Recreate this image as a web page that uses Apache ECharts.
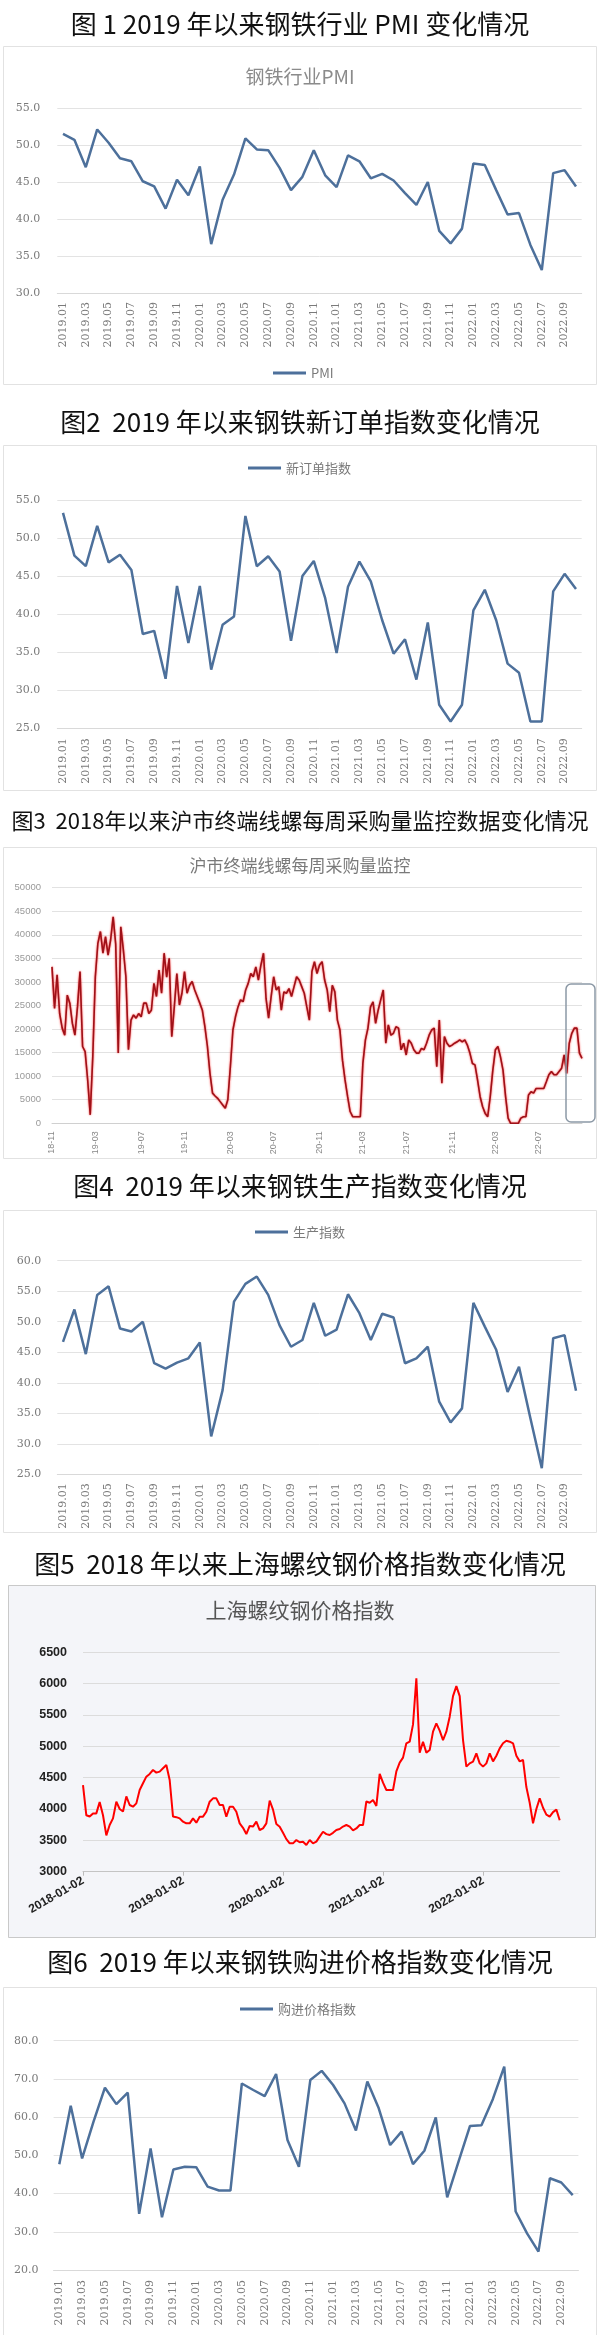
<!DOCTYPE html>
<html><head><meta charset="utf-8">
<script src="https://cdn.jsdelivr.net/npm/echarts@6/dist/echarts.min.js"></script>
<style>html,body{margin:0;padding:0;background:#fff}#c{width:600px;height:2335px}</style>
</head><body><div id="c"></div>
<script>
// ---------- DATA ----------
const months = ['2019.01','2019.02','2019.03','2019.04','2019.05','2019.06','2019.07','2019.08','2019.09','2019.10','2019.11','2019.12',
 '2020.01','2020.02','2020.03','2020.04','2020.05','2020.06','2020.07','2020.08','2020.09','2020.10','2020.11','2020.12',
 '2021.01','2021.02','2021.03','2021.04','2021.05','2021.06','2021.07','2021.08','2021.09','2021.10','2021.11','2021.12',
 '2022.01','2022.02','2022.03','2022.04','2022.05','2022.06','2022.07','2022.08','2022.09','2022.10'];

const pmi = [51.5,50.7,47.0,52.1,50.3,48.2,47.8,45.1,44.4,41.4,45.3,43.2,
 47.1,36.6,42.6,46.0,50.9,49.4,49.3,46.9,43.9,45.7,49.3,45.9,
 44.3,48.6,47.8,45.5,46.1,45.2,43.5,41.9,45.0,38.4,36.7,38.7,
 47.5,47.3,43.9,40.6,40.8,36.5,33.1,46.2,46.6,44.4];

const newOrders = [53.3,47.7,46.3,51.6,46.8,47.8,45.8,37.4,37.8,31.5,43.7,36.2,
 43.7,32.7,38.6,39.7,52.9,46.3,47.6,45.6,36.5,45.0,47.0,42.1,
 34.9,43.6,46.9,44.3,39.2,34.8,36.7,31.4,38.9,28.1,25.9,28.1,
 40.5,43.2,39.2,33.5,32.3,25.9,25.9,43.0,45.3,43.3];

const production = [46.7,52.0,44.7,54.4,55.8,48.9,48.4,50.0,43.2,42.3,43.3,44.0,
 46.6,31.2,38.8,53.3,56.2,57.4,54.4,49.4,45.9,47.0,53.1,47.7,
 48.7,54.5,51.4,47.0,51.3,50.7,43.2,44.0,45.9,36.9,33.5,35.8,
 53.1,49.2,45.4,38.5,42.6,34.2,26.0,47.3,47.8,38.7];

const purchasePrice = [47.7,63.0,49.2,58.8,67.7,63.4,66.4,34.7,51.8,33.8,46.3,47.0,
 46.9,41.8,40.8,40.8,68.8,67.1,65.5,71.3,54.0,47.0,69.7,72.1,
 68.4,63.6,56.5,69.3,62.3,52.7,56.2,47.7,51.2,59.9,39.0,48.4,
 57.7,57.9,64.7,73.2,35.3,29.6,24.8,44.0,42.9,39.6];

// weekly purchase volume of Shanghai terminal wire/rebar, first week = 2018-11-02
const weeklyStart = '2018-11-02';
const weeklyPurchase = [
 33200,24400,31500,23300,20200,18700,27200,25500,21200,18700,
 24700,32200,16300,15200,9200,1800,14100,31100,38200,40700,
 36100,39600,35700,38900,43800,38000,14900,41700,36800,31100,
 15600,21900,23000,22300,23300,22600,25500,25500,23300,24000,
 29700,26900,32500,27600,36100,31000,35000,18400,24700,31800,
 25100,27600,32200,27600,29300,30100,28300,26900,25500,24000,
 20500,16300,10600,6400,5800,5300,4600,3900,3200,5000,
 12000,19800,22600,24700,26200,25800,28300,29700,31800,31100,
 33200,30400,33600,36100,26500,22300,26900,31100,28300,29000,
 24000,27900,27600,28600,26900,29000,31100,30400,29000,27600,
 24700,21900,32200,34300,31800,33600,34300,30400,28300,23700,
 29300,27900,21900,19800,13400,9200,5700,2500,1400,1400,
 1400,1400,12700,17700,20200,24700,25800,21200,24000,26200,
 28300,17000,20900,18700,19100,20500,20200,15600,17000,14500,
 17700,17000,15600,14900,14900,15900,15600,17000,18700,19800,
 20200,12000,21900,8500,18400,17000,16300,16600,17000,17300,
 17700,17300,17700,16600,14900,12700,12400,9200,5700,3500,
 2100,1400,5700,11300,15600,16300,14100,11300,5700,1100,
 0,0,0,0,1100,1400,1400,6000,6700,6400,
 7400,7400,7400,7400,8800,10300,11000,10300,10300,11000,
 11700,14500,10600,17000,19100,20200,20200,14900,13800];

// Shanghai rebar price index, ~30 readings per year starting 2018-01-02
const rebarYearLabels = ['2018-01-02','2019-01-02','2020-01-02','2021-01-02','2022-01-02'];
const rebarPrice = [
 4380,3900,3880,3930,3930,4110,3900,3580,3745,3850,
 4117,4000,3960,4200,4064,4037,4090,4303,4410,4516,
 4560,4622,4580,4596,4649,4702,4463,3880,3870,3851,
 3798,3771,3771,3851,3782,3878,3878,3957,4117,4170,
 4170,4064,4064,3878,4037,4037,3957,3771,3700,3600,
 3730,3720,3798,3665,3692,3771,4133,3990,3760,3718,
 3620,3520,3452,3452,3505,3470,3479,3426,3505,3452,
 3480,3560,3638,3600,3585,3620,3665,3680,3720,3745,
 3718,3660,3690,3745,3745,4120,4100,4143,4050,4560,
 4420,4303,4303,4303,4600,4740,4820,5048,5074,5350,
 6085,4900,5074,4900,4941,5234,5367,5250,5100,5234,
 5473,5800,5960,5800,5100,4676,4728,4755,4888,4728,
 4676,4728,4888,4760,4850,4968,5050,5090,5074,5048,
 4850,4760,4782,4350,4100,3771,4000,4170,4020,3910,
 3878,3950,3990,3820];
const READINGS_PER_YEAR = 30;

// ---------- derived categories ----------
const DAY = 86400000;
const weekStartMs = Date.parse(weeklyStart + 'T00:00:00Z');
const weekDates = weeklyPurchase.map((_, i) => new Date(weekStartMs + i * 7 * DAY).toISOString().slice(0, 10));
const rebarStartMs = Date.parse(rebarYearLabels[0] + 'T00:00:00Z');
const rebarDates = rebarPrice.map((_, i) => new Date(rebarStartMs + i * 365.25 / READINGS_PER_YEAR * DAY).toISOString().slice(0, 10));

// ---------- STYLE ----------
const CJK = '"Noto Sans CJK SC","Noto Sans",sans-serif';
const SERIF = '"DejaVu Serif","Liberation Serif",serif';
const SANS = '"Liberation Sans",Arial,sans-serif';
const BLUE = '#4d709b';

function heading(text, cy, size) {
  return {text, left: 'center', top: cy - size / 2, padding: 0,
    textStyle: {fontFamily: CJK, fontSize: size, lineHeight: size, fontWeight: 'normal', color: '#111'}};
}
function inner(text, cy, size, color) {
  return {text, left: 'center', top: cy - size / 2, padding: 0,
    textStyle: {fontFamily: CJK, fontSize: size, lineHeight: size, fontWeight: 'normal', color}};
}
function legendAt(name, left, cy) {
  return {data: [name], left, top: cy - 7, padding: 0, icon: 'rect', itemWidth: 33, itemHeight: 3,
    textStyle: {fontFamily: CJK, fontSize: 13, color: '#7a7a7a', lineHeight: 14}, selectedMode: false};
}
function monthAxis(gi, margin) {
  return {type: 'category', gridIndex: gi, data: months, boundaryGap: true,
    axisLine: {lineStyle: {color: '#d9d9d9'}}, axisTick: {show: false},
    axisLabel: {interval: 1, rotate: 90, margin, fontFamily: SERIF, fontSize: 11, color: '#7a7a7a'}};
}
function monthValAxis(gi, min, max, interval, margin) {
  return {type: 'value', gridIndex: gi, min, max, interval,
    axisLine: {show: false}, axisTick: {show: false},
    splitLine: {lineStyle: {color: '#e3e3e3'}},
    axisLabel: {formatter: v => v.toFixed(1), fontFamily: SERIF, fontSize: 11, color: '#7a7a7a', margin}};
}
function blueLine(name, idx, data) {
  return {type: 'line', name, xAxisIndex: idx, yAxisIndex: idx, data, symbol: 'none',
    lineStyle: {color: BLUE, width: 2.5}, itemStyle: {color: BLUE}};
}
function panel(x, y, w, h, fill, stroke) {
  return {type: 'rect', z: -10, silent: true, shape: {x, y, width: w, height: h},
    style: {fill: fill || 'none', stroke: stroke || '#e2e2e2', lineWidth: 1}};
}

const option = {
  animation: false,
  backgroundColor: '#ffffff',
  graphic: {elements: [
    panel(3.5, 46.5, 593, 338),
    panel(3.5, 445.5, 593, 345),
    panel(3.5, 847.5, 593, 311),
    panel(3.5, 1210.5, 593, 322),
    panel(8.5, 1585.5, 587, 352, '#f4f5f9', '#c9c9c9'),
    panel(3.5, 1987.5, 593, 352),
    {type: 'rect', z: 20, silent: true, shape: {x: 566, y: 984, width: 29, height: 138, r: 5},
      style: {fill: 'none', stroke: '#8c99a6', lineWidth: 1.5}}
  ]},
  title: [
    heading('图 1 2019 年以来钢铁行业 PMI 变化情况', 24, 26),
    heading('图2  2019 年以来钢铁新订单指数变化情况', 422, 26),
    heading('图3  2018年以来沪市终端线螺每周采购量监控数据变化情况', 821, 22),
    heading('图4  2019 年以来钢铁生产指数变化情况', 1186, 26),
    heading('图5  2018 年以来上海螺纹钢价格指数变化情况', 1564, 26),
    heading('图6  2019 年以来钢铁购进价格指数变化情况', 1962, 26),
    inner('钢铁行业PMI', 77, 19, '#8b8b8b'),
    inner('沪市终端线螺每周采购量监控', 866, 17, '#7a7a7a'),
    inner('上海螺纹钢价格指数', 1610, 21, '#555555')
  ],
  legend: [
    legendAt('PMI', 273, 373),
    legendAt('新订单指数', 248, 468),
    legendAt('生产指数', 255, 1232),
    legendAt('购进价格指数', 240, 2009)
  ],
  grid: [
    {left: 57.3, width: 524.4, top: 108, height: 185},
    {left: 57.3, width: 524.4, top: 500, height: 228.3},
    {left: 52, width: 530, top: 887.7, height: 235.6},
    {left: 57.3, width: 524.4, top: 1260.7, height: 213.6},
    {left: 83, width: 476.7, top: 1652.3, height: 219.4},
    {left: 53.6, width: 524.8, top: 2040.7, height: 229.3}
  ],
  xAxis: [
    monthAxis(0, 9),
    monthAxis(1, 10),
    {type: 'category', gridIndex: 2, data: weekDates, boundaryGap: false,
      axisLine: {lineStyle: {color: '#d0d0d0'}}, axisTick: {show: false},
      axisLabel: {rotate: 90, margin: 8, fontFamily: SANS, fontSize: 9, color: '#888',
        interval: (i, v) => { const d = +v.slice(8, 10), m = +v.slice(5, 7); return d <= 7 && (m === 3 || m === 7 || m === 11); },
        formatter: v => v.slice(2, 7)}},
    monthAxis(3, 9),
    {type: 'category', gridIndex: 4, data: rebarDates, boundaryGap: false,
      axisLine: {lineStyle: {color: '#c4c4c4'}},
      axisTick: {show: true, length: 4, lineStyle: {color: '#bdbdbd'}, interval: i => i % READINGS_PER_YEAR === 0},
      axisLabel: {rotate: 30, margin: 8, fontFamily: SANS, fontSize: 12, fontWeight: 'bold', color: '#222',
        interval: i => i % READINGS_PER_YEAR === 0,
        formatter: (v, i) => rebarYearLabels[Math.round(i / READINGS_PER_YEAR)] || ''}},
    monthAxis(5, 10)
  ],
  yAxis: [
    monthValAxis(0, 30, 55, 5, 17),
    monthValAxis(1, 25, 55, 5, 17),
    {type: 'value', gridIndex: 2, min: 0, max: 50000, interval: 5000,
      axisLine: {show: false}, axisTick: {show: false},
      splitLine: {lineStyle: {color: '#e2e2e2'}},
      axisLabel: {formatter: v => String(v), fontFamily: SANS, fontSize: 9.5, color: '#999', margin: 11}},
    monthValAxis(3, 25, 60, 5, 16),
    {type: 'value', gridIndex: 4, min: 3000, max: 6500, interval: 500,
      axisLine: {show: false}, axisTick: {show: false},
      splitLine: {lineStyle: {color: '#dcdcdc'}},
      axisLabel: {formatter: v => String(v), fontFamily: SANS, fontSize: 12.5, fontWeight: 'bold', color: '#222', margin: 16}},
    monthValAxis(5, 20, 80, 10, 15)
  ],
  series: [
    blueLine('PMI', 0, pmi),
    blueLine('新订单指数', 1, newOrders),
    {type: 'line', name: '沪市终端线螺每周采购量', xAxisIndex: 2, yAxisIndex: 2, data: weeklyPurchase, symbol: 'none',
      lineStyle: {color: '#9e1118', width: 1.6, shadowColor: 'rgba(255,0,0,0.8)', shadowBlur: 2}},
    blueLine('生产指数', 3, production),
    {type: 'line', name: '上海螺纹钢价格指数', xAxisIndex: 4, yAxisIndex: 4, data: rebarPrice, symbol: 'none',
      lineStyle: {color: '#ff0000', width: 2}},
    blueLine('购进价格指数', 5, purchasePrice)
  ]
};
const chart = echarts.init(document.getElementById('c'), null, {renderer: 'canvas', width: 600, height: 2335});
chart.setOption(option);
</script>
</body></html>
